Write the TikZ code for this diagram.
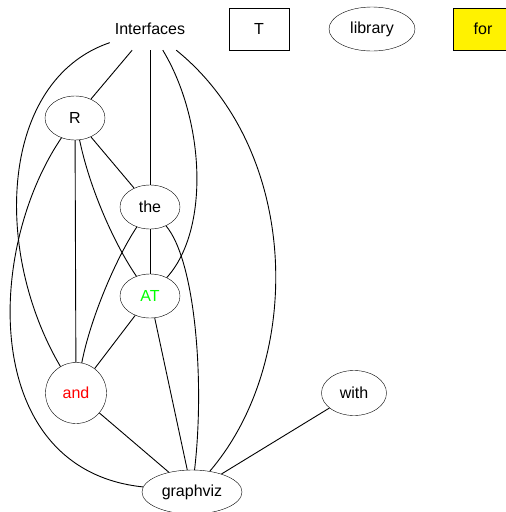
\documentclass[tikz,border=0pt]{standalone}
\usepackage{fontspec}
\setmainfont{Liberation Sans}
\usetikzlibrary{shapes.geometric}

\begin{document}
\begin{tikzpicture}[x=1pt, y=-1pt, font=\fontsize{16}{19}\selectfont,
	ell/.style={draw, ellipse, inner sep=0pt, minimum width=60pt, minimum height=44pt},
	box/.style={draw, rectangle, inner sep=0pt, minimum width=60pt, minimum height=42pt},
	link/.style={line width=0.9pt}]
	\useasboundingbox (0,0) rectangle (506,512);

	% top row
	\node[inner sep=0pt, minimum width=80pt, minimum height=42pt] (interfaces) at (150,29) {Interfaces};
	\node[box] (T) at (259,29) {T};
	\node[ell, minimum width=86pt] (library) at (372,29) {library};
	\node[box, fill=yellow] (for) at (483,29) {for};

	% the rest
	\node[ell] (R) at (75,118) {R};
	\node[ell] (the) at (150,207) {the};
	\node[ell, text=green] (AT) at (150,296) {AT};
	\node[draw, circle, inner sep=0pt, minimum size=61pt, text=red] (and) at (76,393) {and};
	\node[ell, minimum width=65pt, minimum height=45pt] (with) at (354,393) {with};
	\node[ell, minimum width=100pt] (graphviz) at (192,492) {graphviz};

	\draw[link] (interfaces) -- (R);
	\draw[link] (interfaces) -- (the);
	\draw[link] (interfaces) .. controls (205,120) and (210,230) .. (AT);
	\draw[link] (interfaces) .. controls (0,80) and (-8,250) .. (and);
	\draw[link] (interfaces) .. controls (300,150) and (305,360) .. (graphviz);
	\draw[link] (R) -- (the);
	\draw[link] (R) -- (and);
	\draw[link] (R) .. controls (90,190) and (115,245) .. (AT);
	\draw[link] (R) .. controls (-15,250) and (-20,470) .. (graphviz);
	\draw[link] (the) -- (AT);
	\draw[link] (the) .. controls (115,260) and (90,320) .. (and);
	\draw[link] (the) .. controls (195,260) and (205,380) .. (graphviz);
	\draw[link] (AT) -- (and);
	\draw[link] (AT) -- (graphviz);
	\draw[link] (and) -- (graphviz);
	\draw[link] (with) -- (graphviz);
\end{tikzpicture}
\end{document}
